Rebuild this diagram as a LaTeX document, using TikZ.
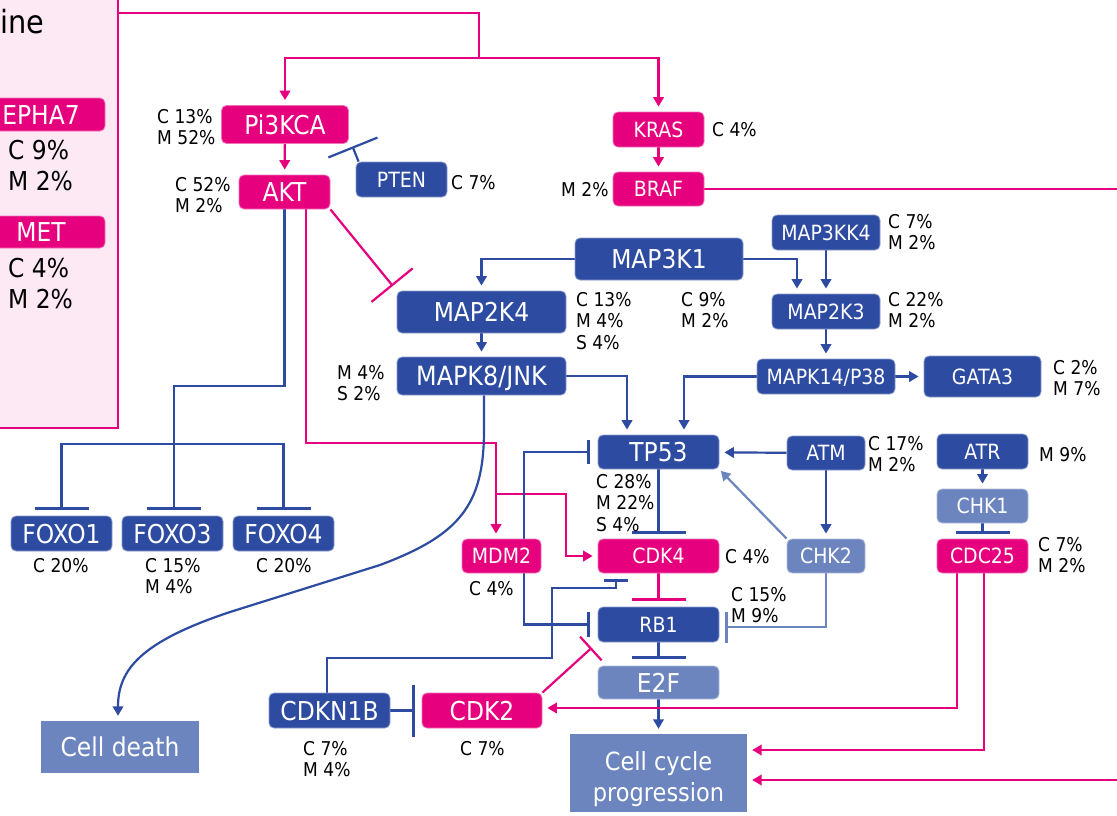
\documentclass[tikz,border=0pt]{standalone}
\usepackage{fontspec}
\setmainfont{DejaVu Sans}[FakeStretch=0.9]
\usetikzlibrary{arrows.meta,calc}
\pgfdeclarelayer{bg}
\pgfsetlayers{bg,main}
\definecolor{mag}{RGB}{230,0,126}
\definecolor{dblue}{RGB}{45,75,160}
\definecolor{lblue}{RGB}{108,133,190}
\definecolor{pinkbg}{RGB}{252,233,243}
\newcommand\fBig{\fontsize{26}{30}\selectfont}
\newcommand\fMid{\fontsize{21}{25}\selectfont}
\newcommand\fPct{\fontsize{19}{21.5}\selectfont}
\newcommand\fSide{\fontsize{26}{31}\selectfont}
\begin{document}
\begin{tikzpicture}[x=1pt,y=-1pt,
  box/.style={rounded corners=5pt, inner sep=0pt, text=white, line width=0.8pt},
  mbox/.style={box, fill=mag, draw=mag!55!white},
  dbox/.style={box, fill=dblue, draw=dblue!55!white},
  lbox/.style={box, fill=lblue, draw=lblue!55!white},
  big/.style={font=\fBig, text height=19pt, text depth=0pt},
  mid/.style={font=\fMid, text height=15.3pt, text depth=0pt},
  sz/.style 2 args={minimum width=#1pt, minimum height=#2pt},
  pct/.style={anchor=north west, inner sep=0pt, align=left, font=\fPct, text=black},
  mline/.style={draw=mag, line width=2.2pt},
  bline/.style={draw=dblue, line width=2.2pt},
  lline/.style={draw=lblue, line width=2.2pt},
  arr/.style={-{Triangle[length=9.5pt,width=10.5pt]}, shorten >=5pt},
  inh/.style={-{Bar[width=#1]}, shorten >=6pt}
]
\useasboundingbox (0,0) rectangle (1117,815);

% left panel
\node[draw=mag, fill=pinkbg, line width=2.2pt, sz={128}{438}, inner sep=0pt] (panel) at (54,209) {};
\node[anchor=base west, inner sep=0pt, font=\fontsize{32}{36}\selectfont] (ine) at (0,33) {ine};
\node[mbox, big, sz={128}{33}] (epha7) at (41,114.5) {EPHA7};
\node[anchor=north west, inner sep=0pt, align=left, font=\fSide] (epha7p) at (8,140) {C 9\%\\M 2\%};
\node[mbox, big, sz={128}{32}] (met) at (41,232) {MET};
\node[anchor=north west, inner sep=0pt, align=left, font=\fSide] (metp) at (8,258) {C 4\%\\M 2\%};

% nodes
\node[mbox, big, sz={127}{38}] (pi3kca) at (285,124.5) {Pi3KCA};
\node[mbox, big, sz={91}{34}] (akt) at (284.5,192) {AKT};
\node[dbox, mid, sz={91}{35}] (pten) at (401.5,179.5) {PTEN};
\node[mbox, mid, sz={91}{35}] (kras) at (658.5,129.5) {KRAS};
\node[mbox, mid, sz={91}{34}] (braf) at (658.5,189) {BRAF};
\node[dbox, big, sz={168}{42}] (map3k1) at (659,259) {MAP3K1};
\node[dbox, big, sz={169}{42}] (map2k4) at (481.5,312) {MAP2K4};
\node[dbox, big, font=\fontsize{26.5}{30}\selectfont, sz={169}{38}] (mapk8) at (481.5,376) {MAPK8/JNK};
\node[dbox, mid, sz={108}{35}] (map3kk4) at (826,232.5) {MAP3KK4};
\node[dbox, mid, sz={108}{35}] (map2k3) at (826,311.5) {MAP2K3};
\node[dbox, mid, sz={138}{35}] (mapk14) at (826,376.5) {MAPK14/P38};
\node[dbox, mid, sz={117}{41}] (gata3) at (982.5,376.5) {GATA3};
\node[dbox, big, sz={121}{34}] (tp53) at (658.5,452) {TP53};
\node[dbox, mid, sz={78}{34}] (atm) at (826,453) {ATM};
\node[dbox, mid, sz={91}{35}] (atr) at (982.5,451.5) {ATR};
\node[lbox, mid, sz={91}{34}] (chk1) at (982.5,506) {CHK1};
\node[mbox, mid, sz={91}{34}] (cdc25) at (982.5,556) {CDC25};
\node[lbox, mid, sz={78}{34}] (chk2) at (826,556) {CHK2};
\node[mbox, mid, sz={121}{34}] (cdk4) at (658.5,556) {CDK4};
\node[mbox, mid, sz={79}{34}] (mdm2) at (501.5,556) {MDM2};
\node[dbox, mid, sz={121}{35}] (rb1) at (658.5,624.5) {RB1};
\node[lbox, big, sz={121}{33}] (e2f) at (658.5,682.5) {E2F};
\node[mbox, big, sz={120}{35}] (cdk2) at (482,710.5) {CDK2};
\node[dbox, big, sz={121}{35}] (cdkn1b) at (329.5,710.5) {CDKN1B};
\node[dbox, big, sz={101}{35}] (foxo1) at (61.5,533.5) {FOXO1};
\node[dbox, big, sz={101}{35}] (foxo3) at (172.5,533.5) {FOXO3};
\node[dbox, big, sz={101}{35}] (foxo4) at (283.5,533.5) {FOXO4};
\node[fill=lblue, text=white, font=\fBig, sz={158}{52}, inner sep=0pt] (celldeath) at (120,747) {Cell death};
\node[fill=lblue, sz={177}{78}, inner sep=0pt] (cellcycle) at (658.5,773) {};
\node[text=white, font=\fontsize{25}{31}\selectfont, align=center, inner sep=0pt] (cctext) at ([yshift=-6pt]cellcycle.center) {Cell cycle\\progression};

% percentages
\node[pct] (p1) at (157,109) {C 13\%\\M 52\%};
\node[pct] (p2) at (175,177) {C 52\%\\M 2\%};
\node[pct] (p3) at (451,175) {C 7\%};
\node[pct] (p4) at (712,122) {C 4\%};
\node[pct] (p5) at (561,182) {M 2\%};
\node[pct] (p6) at (681,292) {C 9\%\\M 2\%};
\node[pct] (p7) at (576,292) {C 13\%\\M 4\%\\S 4\%};
\node[pct] (p8) at (337,365) {M 4\%\\S 2\%};
\node[pct] (p9) at (888,214) {C 7\%\\M 2\%};
\node[pct] (p10) at (888,292) {C 22\%\\M 2\%};
\node[pct] (p11) at (1053,360) {C 2\%\\M 7\%};
\node[pct] (p12) at (596,474) {C 28\%\\M 22\%\\S 4\%};
\node[pct] (p13) at (868,436) {C 17\%\\M 2\%};
\node[pct] (p14) at (1039,447) {M 9\%};
\node[pct] (p15) at (1038,537) {C 7\%\\M 2\%};
\node[pct] (p16) at (725,549) {C 4\%};
\node[pct] (p17) at (731,587) {C 15\%\\M 9\%};
\node[pct] (p18) at (469,581) {C 4\%};
\node[pct] (p19) at (33,558) {C 20\%};
\node[pct] (p20) at (145,558) {C 15\%\\M 4\%};
\node[pct] (p21) at (256,558) {C 20\%};
\node[pct] (p22) at (303,741) {C 7\%\\M 4\%};
\node[pct] (p23) at (460,741) {C 7\%};

\begin{pgfonlayer}{bg}
% top inputs
\draw[mline] (panel.east |- 0,13) -| (479,58) coordinate (split);
\draw[mline,arr] (split) -| (pi3kca.north);
\draw[mline,arr] (split) -| (kras.north);
\draw[mline,arr] (pi3kca) -- (akt);
\draw[mline,arr] (kras) -- (braf);
\coordinate (ptent) at (352.5,146.5);
\draw[bline,-{Bar[width=53pt]}] ([xshift=3pt]pten.north west) -- (ptent);
% BRAF to cell cycle
\draw[mline,arr] (braf.east) -- (1150,189) -- (1150,780) -- (cellcycle.east |- 0,780);
% AKT
\draw[mline,inh=53pt] (akt.south east) -- (map2k4.north west);
\draw[bline] (akt.south) |- (174,386) -- (174,444) coordinate (foxj);
\draw[bline,inh=54pt] (foxj) -| (foxo1.north);
\draw[bline,inh=54pt] (foxj) -- (foxj |- foxo3.north);
\draw[bline,inh=54pt] (foxj) -| (foxo4.north);
\draw[mline,arr] ([xshift=21.5pt]akt.south) |- (496,443) -- (mdm2.north -| 496,0);
\draw[mline,arr] (496,494) coordinate (mj) -| (cdk4.west -| 566,0) -- (cdk4.west);
% MAPK cascade
\draw[bline,arr] (map3k1.west) -| (map2k4.north);
\draw[bline,arr] (map3k1.east) -| (map2k3.north -| 797,0);
\draw[bline,arr] (map3kk4) -- (map2k3);
\draw[bline,arr] (map2k4) -- (mapk8);
\draw[bline,arr] (map2k3) -- (mapk14);
\draw[bline,arr] (mapk14) -- (gata3);
\draw[bline,arr] (mapk14.west) -| (tp53.north -| 684,0);
\draw[bline,arr] (mapk8.east) -| (tp53.north -| 627,0);
\draw[bline,arr] (mapk8.south -| 484,0) -- (484,430) .. controls (484,505) and (460,535) .. (380,565) -- (230,612) .. controls (140,642) and (118,670) .. (celldeath.north -| 118,0);
% DNA damage
\draw[bline,arr] (atm) -- (tp53);
\draw[bline,arr] (atm) -- (chk2);
\draw[lline,arr,shorten >=2pt] (chk2.north west) -- (tp53.south east);
\draw[lline,inh=31pt] (chk2.south) |- (rb1.east |- 0,627);
\draw[bline,arr] (atr) -- (chk1);
\draw[bline,inh=54pt,shorten >=5pt] (chk1) -- (cdc25);
% cell cycle
\draw[bline,inh=54pt,shorten >=5pt] (tp53) -- (cdk4);
\draw[mline,inh=54pt] (cdk4) -- (rb1);
\draw[bline,inh=54pt,shorten >=7pt] (rb1) -- (e2f);
\draw[bline,arr] (e2f) -- (cellcycle);
\draw[bline,inh=24pt,shorten >=8pt] (mdm2.center -| 524,0) |- (tp53.west);
\draw[bline,inh=25pt,shorten >=8pt] (mdm2.center -| 524,0) |- (rb1.west);
\draw[bline,inh=24pt] ([xshift=-2.5pt]cdkn1b.north) |- (552,658) |- (616,588) -- (cdk4.south -| 616,0);
\draw[bline,inh=52pt,shorten >=7pt] (cdkn1b) -- (cdk2);
\draw[mline,inh=32pt,shorten >=8pt] (cdk2.north east) -- (rb1.south west);
\draw[mline,arr] (cdc25.south -| 957,0) |- (cdk2.east |- 0,708);
\draw[mline,arr] (cdc25.south -| 984,0) |- (cellcycle.east |- 0,750);
\end{pgfonlayer}
\end{tikzpicture}
\end{document}
